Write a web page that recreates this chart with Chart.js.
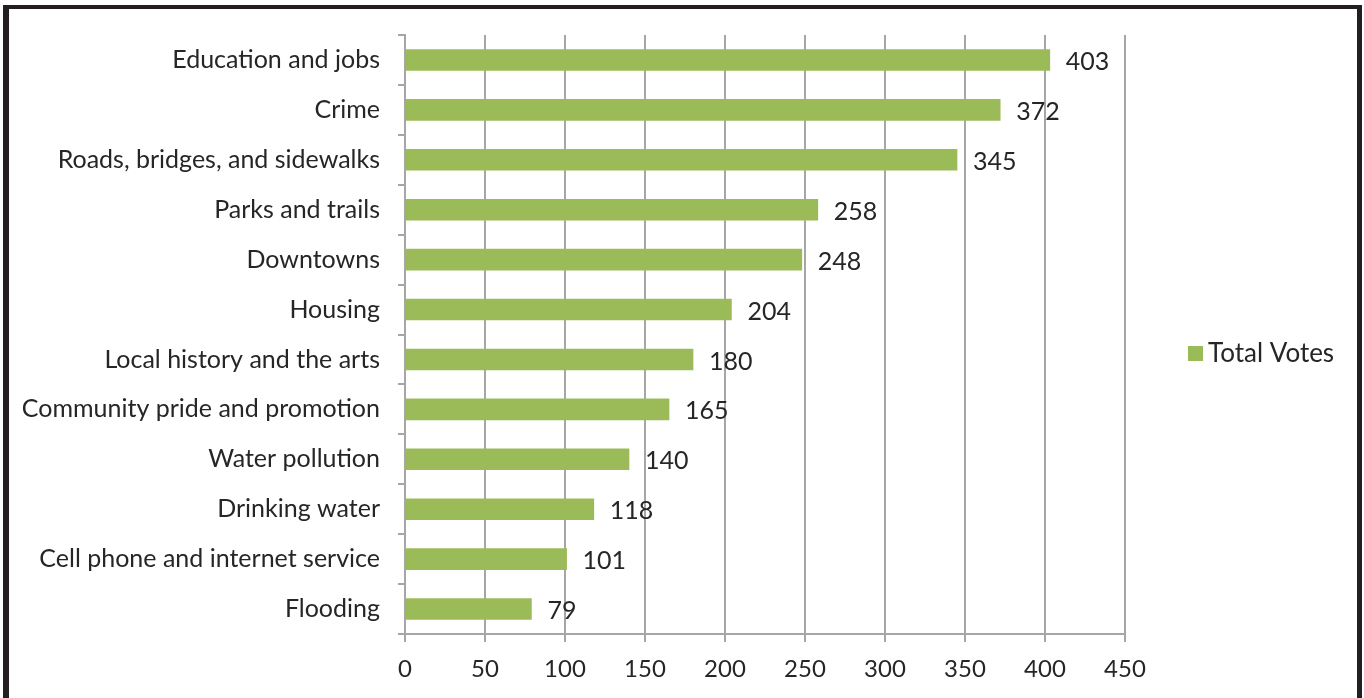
<!DOCTYPE html>
<html>
<head>
<meta charset="utf-8">
<script src="https://cdn.jsdelivr.net/npm/chart.js@4.4.0/dist/chart.umd.min.js"></script>
<style>
  html, body { margin: 0; padding: 0; background: #fff; overflow: hidden; }
  #frame { position: absolute; left: 3px; top: 5px; width: 1359px; height: 800px; box-sizing: border-box;
           border-left: 6px solid #231f20; border-top: 4px solid #231f20; border-right: 5px solid #231f20; }
  #wrap { position: absolute; left: 0; top: 0; width: 1364px; height: 698px; }
</style>
</head>
<body>
<div id="frame"></div>
<div id="wrap"><canvas id="c" width="1364" height="698"></canvas></div>
<script>
const categories = [
  "Education and jobs",
  "Crime",
  "Roads, bridges, and sidewalks",
  "Parks and trails",
  "Downtowns",
  "Housing",
  "Local history and the arts",
  "Community pride and promotion",
  "Water pollution",
  "Drinking water",
  "Cell phone and internet service",
  "Flooding"
];
const totalVotes = [403, 372, 345, 258, 248, 204, 180, 165, 140, 118, 101, 79];
const seriesName = "Total Votes";
const xTicks = [0, 50, 100, 150, 200, 250, 300, 350, 400, 450];

const FONT = "Lato, 'Open Sans', sans-serif";
const TEXT = "#262626";
const BAR = "#9bbb59";
const GRID = "#a6a6a6";

const valueLabels = {
  id: 'valueLabels',
  afterDatasetsDraw(chart) {
    const ctx = chart.ctx;
    ctx.save();
    ctx.font = "25px " + FONT;
    ctx.fillStyle = TEXT;
    ctx.textAlign = 'left';
    ctx.textBaseline = 'middle';
    chart.getDatasetMeta(0).data.forEach((el, i) => {
      ctx.fillText(String(chart.data.datasets[0].data[i]), el.x + 16, el.y + 2);
    });
    ctx.restore();
  }
};

const sideLegend = {
  id: 'sideLegend',
  afterDraw(chart) {
    const ctx = chart.ctx;
    const ds = chart.data.datasets[0];
    ctx.save();
    ctx.fillStyle = ds.backgroundColor;
    ctx.fillRect(1188, 346, 15, 15);
    ctx.font = "26px " + FONT;
    ctx.fillStyle = TEXT;
    ctx.textAlign = 'left';
    ctx.textBaseline = 'middle';
    ctx.fillText(ds.label, 1208, 354);
    ctx.restore();
  }
};

new Chart(document.getElementById('c'), {
  type: 'bar',
  data: {
    labels: categories,
    datasets: [{
      label: seriesName,
      data: totalVotes,
      backgroundColor: BAR,
      borderWidth: 0,
      barThickness: 21
    }]
  },
  options: {
    indexAxis: 'y',
    responsive: false,
    animation: false,
    devicePixelRatio: 1,
    layout: { padding: { top: 35, right: 239, bottom: 0, left: 0 } },
    plugins: {
      legend: { display: false },
      tooltip: { enabled: false }
    },
    scales: {
      x: {
        min: 0, max: 450,
        afterBuildTicks(scale) { scale.ticks = xTicks.map(v => ({ value: v })); },
        afterFit(scale) { scale.height = 64; },
        grid: { color: GRID, lineWidth: 2, drawTicks: true, tickLength: 8, tickColor: GRID },
        border: { display: true, color: GRID, width: 2 },
        ticks: { color: TEXT, font: { family: FONT, size: 24 }, padding: 13 }
      },
      y: {
        afterFit(scale) { scale.width = 405; },
        grid: { offset: true, drawOnChartArea: false, drawTicks: true, tickLength: 7, color: GRID, lineWidth: 2 },
        border: { display: true, color: GRID, width: 2 },
        ticks: { color: TEXT, font: { family: FONT, size: 25 }, padding: 18, autoSkip: false }
      }
    }
  },
  plugins: [valueLabels, sideLegend]
});
</script>
</body>
</html>
